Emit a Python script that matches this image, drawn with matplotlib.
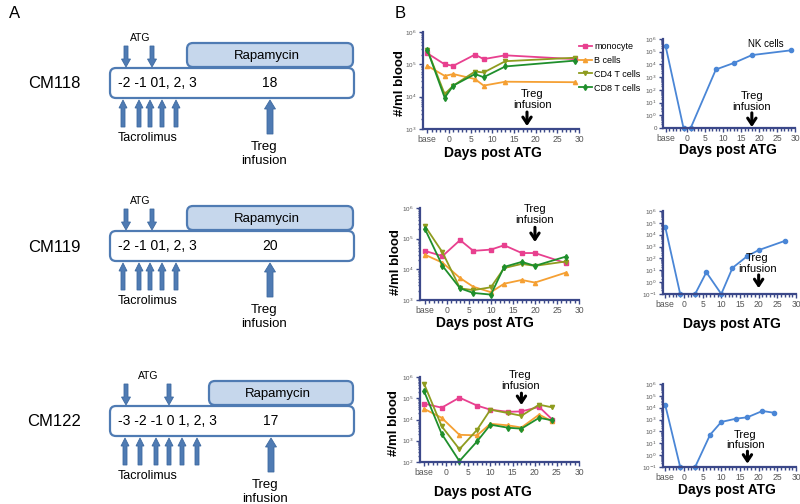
import math
import matplotlib
matplotlib.use('Agg')
import matplotlib.pyplot as plt
import matplotlib.transforms as mtransforms
from matplotlib.patches import FancyBboxPatch
from matplotlib.ticker import FixedLocator, LogLocator, NullFormatter

plt.rcParams['font.family'] = ['Liberation Sans', 'DejaVu Sans']

# ---- panel A: treatment schedules ----
schedule_names = ['CM118', 'CM119', 'CM122']
schedule_days = ['-2 -1 01, 2, 3', '-2 -1 01, 2, 3', '-3 -2 -1 0 1, 2, 3']
treg_days = [18, 20, 17]

# ---- panel B: cell counts (#/ml blood), first value = baseline ----
days_118 = ['base', -1, 1, 6, 8, 13, 29]
mono_118 = [2.2e5, 1.0e5, 9e4, 2.0e5, 1.45e5, 1.9e5, 1.45e5]
bcell_118 = [9e4, 4.4e4, 5e4, 3.5e4, 2.2e4, 2.9e4, 2.8e4]
cd4_118 = [2.8e5, 1.2e4, 2.2e4, 6e4, 5.6e4, 1.25e5, 1.6e5]
cd8_118 = [2.8e5, 9.3e3, 2.2e4, 5e4, 4e4, 8.6e4, 1.3e5]
nk_days_118 = ['base', -1, 1, 8, 13, 18, 29]
nk_118 = [3e5, 0, 0, 4e3, 1.3e4, 5.4e4, 1.3e5]

days_119 = ['base', -1, 3, 6, 10, 13, 17, 20, 27]
mono_119 = [4e4, 2.7e4, 9e4, 4e4, 4.4e4, 6.1e4, 3.4e4, 3.4e4, 1.6e4]
bcell_119 = [3e4, 1.65e4, 5.2e3, 2.7e3, 1.8e3, 3.4e3, 4.5e3, 3.7e3, 7.8e3]
cd4_119 = [2.6e5, 3.6e4, 2.4e3, 2.1e3, 2.6e3, 1.1e4, 1.5e4, 1.3e4, 1.8e4]
cd8_119 = [2.1e5, 1.3e4, 2.4e3, 1.7e3, 1.5e3, 1.2e4, 1.75e4, 1.3e4, 2.6e4]
nk_days_119 = ['base', -1, 3, 6, 10, 13, 17, 20, 27]
nk_119 = [4.5e4, 0, 0, 6.8, 0, 16, 160, 500, 3000]

days_122 = ['base', -1, 3, 7, 10, 14, 17, 21, 24]
mono_122 = [5.6e4, 3.6e4, 1.07e5, 4.5e4, 2.9e4, 2.3e4, 2.4e4, 3.9e4, 9.8e3]
bcell_122 = [3.2e4, 1.2e4, 1.9e3, 1.8e3, 6.3e3, 5.3e3, 4.2e3, 1.7e4, 8.1e3]
cd4_122 = [4.9e5, 4.8e3, 4e2, 3.3e3, 2.9e4, 2e4, 1.5e4, 5e4, 3.7e4]
cd8_122 = [2.2e5, 2.1e3, 1.1e2, 9.4e2, 5.7e3, 4.1e3, 3.7e3, 1.2e4, 9.1e3]
nk_days_122 = ['base', -1, 3, 7, 10, 14, 17, 21, 24]
nk_122 = [1.7e4, 0, 0, 52, 630, 1.2e3, 1.56e3, 5.3e3, 3.8e3]

series_names = ['monocyte', 'B cells', 'CD4 T cells', 'CD8 T cells']
series_colors = ['#e8408f', '#f5a033', '#8f9c1f', '#1f8f2c']
series_markers = ['s', '^', 'v', 'd']
nk_color = '#4a86d6'
navy = '#3b4889'
arrow_blue = '#4f7bb3'

fig = plt.figure(figsize=(8, 5.04), dpi=100)

# overlay in pixel coordinates for the schematic and labels
ov = fig.add_axes([0, 0, 1, 1])
ov.set_xlim(0, 800)
ov.set_ylim(504, 0)
ov.axis('off')

ov.text(15, 14, 'A', fontsize=12, ha='center', va='center')
ov.text(400, 13, 'B', fontsize=12, ha='center', va='center')

row_dy = [0, 163, 338]
atg_xs = [[126, 152], [126, 152], [126, 169]]
tac_xs = [[123, 139, 150, 162, 176], [123, 139, 150, 162, 176],
          [125, 140, 156, 169, 182, 197]]
rapa_x0 = [187, 187, 209]
treg_xs = [270, 270, 271]


def block_arrow(x, y0, y1, w, hw, hl):
    ov.arrow(x, y0, 0, y1 - y0, width=w, head_width=hw, head_length=hl,
             length_includes_head=True, fc=arrow_blue, ec='#3e6aa0', lw=0.6)


for i in range(3):
    dy = row_dy[i]
    ov.text(140 if i < 2 else 148, 38 + dy, 'ATG', fontsize=7.5, ha='center', va='center')
    for x in atg_xs[i]:
        block_arrow(x, 46 + dy, 67 + dy, 4, 9, 8)
    rb = FancyBboxPatch((rapa_x0[i], 43 + dy), 353 - rapa_x0[i], 24,
                        boxstyle='round,pad=0,rounding_size=6',
                        fc='#c6d7ec', ec=arrow_blue, lw=1.6)
    ov.add_patch(rb)
    ov.text((rapa_x0[i] + 353) / 2 - 3, 56 + dy, 'Rapamycin', fontsize=9.5,
            ha='center', va='center')
    tb = FancyBboxPatch((110, 68 + dy), 244, 30,
                        boxstyle='round,pad=0,rounding_size=6',
                        fc='white', ec=arrow_blue, lw=1.6)
    ov.add_patch(tb)
    ov.text(54, 84 + dy, schedule_names[i], fontsize=12, ha='center', va='center')
    ov.text(118, 83 + dy, schedule_days[i], fontsize=10, ha='left', va='center')
    ov.text(treg_xs[i], 83 + dy, str(treg_days[i]), fontsize=10, ha='center', va='center')
    for x in tac_xs[i]:
        block_arrow(x, 127 + dy, 100 + dy, 4, 8, 8)
    ov.text(148, 138 + dy, 'Tacrolimus', fontsize=9, ha='center', va='center')
    block_arrow(treg_xs[i], 134 + dy, 100 + dy, 6, 11, 9)
    ov.text(treg_xs[i] - 6, 154 + dy, 'Treg\ninfusion', fontsize=9.5,
            ha='center', va='center', linespacing=1.2)


def px_axes(x0, y0, x1, y1):
    return fig.add_axes([x0 / 800, 1 - y1 / 504, (x1 - x0) / 800, (y1 - y0) / 504])


def style_ax(ax, ylo, base_pos, xlo, zero_label=False):
    ax.set_yscale('log')
    ax.set_ylim(ylo, 1e6)
    ax.set_xlim(xlo, 30)
    for s in ['top', 'right']:
        ax.spines[s].set_visible(False)
    for s in ['left', 'bottom']:
        ax.spines[s].set_color(navy)
        ax.spines[s].set_linewidth(1.6)
    ax.set_xticks([base_pos] + list(range(0, 31, 5)))
    ax.set_xticklabels(['base'] + [str(v) for v in range(0, 31, 5)])
    ax.xaxis.set_minor_locator(FixedLocator(list(range(int(base_pos), 31))))
    exps = list(range(int(round(math.log10(ylo))), 7))
    ax.yaxis.set_major_locator(FixedLocator([10.0 ** e for e in exps]))
    labels = ['10$^{%d}$' % e for e in exps]
    if zero_label:
        labels[0] = '0'
    ax.set_yticklabels(labels)
    ax.yaxis.set_minor_locator(LogLocator(base=10, subs=range(2, 10), numticks=20))
    ax.yaxis.set_minor_formatter(NullFormatter())
    ax.tick_params(which='both', direction='out', color=navy, width=1)
    ax.tick_params(which='major', length=3, labelcolor='#555555', pad=1.5)
    ax.tick_params(which='minor', length=1.8)
    ax.tick_params(axis='y', labelsize=4.5)
    ax.tick_params(axis='x', labelsize=6.2)


def xpos(days, base_pos):
    return [base_pos if d == 'base' else d for d in days]


def treg_mark(ax, day, tail, tip, text_bottom, text_day):
    tr = mtransforms.blended_transform_factory(ax.transData, ax.transAxes)
    ax.annotate('', xy=(day, tip), xytext=(day, tail), xycoords=tr, textcoords=tr,
                arrowprops=dict(arrowstyle='->,head_length=0.45,head_width=0.3',
                                lw=2.2, color='black', shrinkA=0, shrinkB=0),
                annotation_clip=False)
    ax.text(text_day, text_bottom, 'Treg\ninfusion', transform=tr, fontsize=8,
            ha='center', va='bottom', linespacing=1.1)


cells = [
    (days_118, [mono_118, bcell_118, cd4_118, cd8_118], nk_days_118, nk_118),
    (days_119, [mono_119, bcell_119, cd4_119, cd8_119], nk_days_119, nk_119),
    (days_122, [mono_122, bcell_122, cd4_122, cd8_122], nk_days_122, nk_122),
]
left_boxes = [(423, 32, 579, 129), (420, 208, 579, 300), (420, 377, 579, 462)]
right_boxes = [(663, 39, 795, 128), (663, 211, 796, 294), (663, 384, 796, 467)]
left_ylo = [1e3, 1e3, 1e2]
left_xlo = [-6.0, -6.1, -5.9]
right_xlo = [-6.7, -5.6, -5.6]
right_base = [-6, -5, -5]
# treg arrow (tail, tip, text bottom) in axes fractions, text x in days
left_treg = [(0.175, 0.03, 0.195, 19.2), (0.79, 0.63, 0.82, 20.0), (0.81, 0.67, 0.84, 16.7)]
right_treg = [(0.17, 0.01, 0.18, 18.0), (0.23, 0.07, 0.24, 19.6), (0.19, 0.04, 0.2, 16.4)]
xlabel_pos_left = [(493, 153), (485, 323), (483, 492)]
xlabel_pos_right = [(728, 150), (732, 324), (727, 490)]
ylabel_pos = [(400, 83), (396, 262), (394, 423)]

for i in range(3):
    days, series, nk_days, nk = cells[i]
    ax = px_axes(*left_boxes[i])
    x = xpos(days, -5)
    for vals, name, c, m in zip(series, series_names, series_colors, series_markers):
        ax.plot(x, vals, color=c, marker=m, ms=3, lw=1.3, label=name, clip_on=False)
    style_ax(ax, left_ylo[i], -5, left_xlo[i])
    t = left_treg[i]
    treg_mark(ax, treg_days[i], t[0], t[1], t[2], t[3])
    if i == 0:
        ax.legend(loc='upper left', bbox_to_anchor=(1.0, 0.9), frameon=False,
                  fontsize=6.5, borderpad=0, borderaxespad=0, labelspacing=0.55,
                  handlelength=1.4, handletextpad=0.3)

    axr = px_axes(*right_boxes[i])
    ylo_r = 0.1
    xr = xpos(nk_days, right_base[i])
    axr.plot(xr, [v if v > 0 else ylo_r for v in nk], color=nk_color, marker='o',
             ms=3, lw=1.3, clip_on=False)
    style_ax(axr, ylo_r, right_base[i], right_xlo[i], zero_label=(i == 0))
    t = right_treg[i]
    treg_mark(axr, treg_days[i], t[0], t[1], t[2], t[3])
    if i == 0:
        axr.text(0.78, 0.94, 'NK cells', transform=axr.transAxes, fontsize=7,
                 ha='center', va='center')

    ov.text(*xlabel_pos_left[i], 'Days post ATG', fontsize=10, fontweight='bold',
            ha='center', va='center')
    ov.text(*xlabel_pos_right[i], 'Days post ATG', fontsize=10, fontweight='bold',
            ha='center', va='center')
    ov.text(*ylabel_pos[i], '#/ml blood', fontsize=9.5, fontweight='bold',
            ha='center', va='center', rotation=90)

fig.savefig('out.png', dpi=100)
